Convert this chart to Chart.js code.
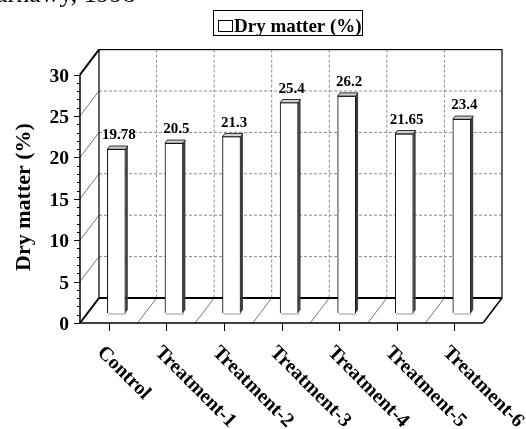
<!DOCTYPE html>
<html>
<head>
<meta charset="utf-8">
<script src="https://cdn.jsdelivr.net/npm/chart.js@4/dist/chart.umd.min.js"></script>
<style>
  html, body { margin: 0; padding: 0; background: #fff; }
  canvas { display: block; }
</style>
</head>
<body>
<canvas id="chart" width="526" height="429"></canvas>
<script>
// Dry matter (%) - 3D style column chart
const categories = ['Control', 'Treatment-1', 'Treatment-2', 'Treatment-3', 'Treatment-4', 'Treatment-5', 'Treatment-6'];
const dryMatter = [19.78, 20.5, 21.3, 25.4, 26.2, 21.65, 23.4];
const valueLabels = ['19.78', '20.5', '21.3', '25.4', '26.2', '21.65', '23.4'];
const yTicks = [0, 5, 10, 15, 20, 25, 30];
const seriesName = 'Dry matter (%)';
const yTitle = 'Dry matter (%)';

const SERIF = '"Liberation Serif", "Times New Roman", serif';
// depth of the 3D box, bars sit 60% of the way from the back wall
const DX = 19, DY = 25, F = 0.6;
const BACK = { x: DX * F, y: -DY * F };
const FRONT = { x: -DX * (1 - F), y: DY * (1 - F) };

function line(ctx, x1, y1, x2, y2) {
  ctx.beginPath(); ctx.moveTo(x1, y1); ctx.lineTo(x2, y2); ctx.stroke();
}

function edges(xs) {
  const step = xs.getPixelForValue(1) - xs.getPixelForValue(0);
  const out = [];
  for (let i = 0; i <= categories.length; i++) out.push(xs.getPixelForValue(0) - step / 2 + i * step);
  return out;
}

const frame3d = {
  id: 'frame3d',
  beforeDatasetsDraw(chart) {
    const ctx = chart.ctx, xs = chart.scales.x, ys = chart.scales.y;
    const e = edges(xs);
    const y0 = ys.getPixelForValue(0), yTop = ys.getPixelForValue(30);
    const bl = e[0] + BACK.x, br = e[e.length - 1] + BACK.x;
    const fl = e[0] + FRONT.x, fr = e[e.length - 1] + FRONT.x;
    ctx.save();
    // back wall gridlines (dashed)
    ctx.strokeStyle = '#8a8a8a'; ctx.lineWidth = 1; ctx.setLineDash([3, 2]);
    yTicks.slice(1, -1).forEach(v => {
      const yy = ys.getPixelForValue(v) + BACK.y;
      line(ctx, bl, yy, br, yy);
    });
    e.slice(1, -1).forEach(xx => line(ctx, xx + BACK.x, yTop + BACK.y, xx + BACK.x, y0 + BACK.y));
    ctx.setLineDash([]);
    // left wall and floor diagonals
    ctx.strokeStyle = '#777';
    yTicks.slice(1, -1).forEach(v => {
      const yy = ys.getPixelForValue(v);
      line(ctx, fl, yy + FRONT.y, bl, yy + BACK.y);
    });
    e.slice(1, -1).forEach(xx => line(ctx, xx + BACK.x, y0 + BACK.y, xx + FRONT.x, y0 + FRONT.y));
    // back wall border
    ctx.strokeStyle = '#000'; ctx.lineWidth = 1.2;
    ctx.strokeRect(bl, yTop + BACK.y, br - bl, y0 - yTop);
    ctx.lineWidth = 2;
    line(ctx, bl, y0 + BACK.y, br, y0 + BACK.y);
    line(ctx, fl, yTop + FRONT.y, bl, yTop + BACK.y);
    line(ctx, fl, y0 + FRONT.y, bl, y0 + BACK.y);
    ctx.lineWidth = 1.5;
    line(ctx, fr, y0 + FRONT.y, br, y0 + BACK.y);
    ctx.restore();
  },
  afterDatasetsDraw(chart) {
    const ctx = chart.ctx, xs = chart.scales.x, ys = chart.scales.y;
    const e = edges(xs);
    const y0 = ys.getPixelForValue(0), yTop = ys.getPixelForValue(30);
    const fl = e[0] + FRONT.x, fr = e[e.length - 1] + FRONT.x;
    const bdx = 2.4, bdy = 3.2;
    ctx.save();
    // bar side and top faces + value labels
    chart.getDatasetMeta(0).data.forEach((bar, i) => {
      const p = bar.getProps(['x', 'y', 'base', 'width'], true);
      const l = p.x - p.width / 2, r = p.x + p.width / 2;
      ctx.fillStyle = '#3c3c3c';
      ctx.beginPath();
      ctx.moveTo(r, p.y); ctx.lineTo(r + bdx, p.y - bdy); ctx.lineTo(r + bdx, p.base - bdy); ctx.lineTo(r, p.base);
      ctx.closePath(); ctx.fill();
      ctx.fillStyle = '#d0d0d0'; ctx.strokeStyle = '#000'; ctx.lineWidth = 0.8;
      ctx.beginPath();
      ctx.moveTo(l, p.y); ctx.lineTo(l + bdx, p.y - bdy); ctx.lineTo(r + bdx, p.y - bdy); ctx.lineTo(r, p.y);
      ctx.closePath(); ctx.fill(); ctx.stroke();
      ctx.strokeStyle = '#999'; ctx.lineWidth = 1;
      line(ctx, l + 1, p.base + 1, r + 1, p.base + 1);
      ctx.fillStyle = '#000'; ctx.font = 'bold 15px ' + SERIF;
      ctx.textAlign = 'center'; ctx.textBaseline = 'alphabetic';
      ctx.fillText(valueLabels[i], p.x + 2.5, p.y - 10);
    });
    // front axes
    ctx.strokeStyle = '#000'; ctx.lineWidth = 1.5;
    line(ctx, fl, yTop + FRONT.y, fl, y0 + FRONT.y);
    line(ctx, fl, y0 + FRONT.y, fr, y0 + FRONT.y);
    ctx.lineWidth = 1;
    for (let v = 0; v <= 30; v++) {
      const yy = Math.round(ys.getPixelForValue(v) + FRONT.y) + 0.5;
      line(ctx, fl - (v % 5 === 0 ? 6 : 3), yy, fl, yy);
    }
    categories.forEach((c, i) => {
      const xx = Math.round(xs.getPixelForValue(i) + FRONT.x) + 0.5;
      line(ctx, xx, y0 + FRONT.y, xx, y0 + FRONT.y + 8);
    });
    // y tick labels
    ctx.fillStyle = '#000'; ctx.font = 'bold 19.5px ' + SERIF;
    ctx.textAlign = 'right'; ctx.textBaseline = 'alphabetic';
    yTicks.forEach(v => ctx.fillText(String(v), fl - 11, ys.getPixelForValue(v) + FRONT.y + 7));
    // category labels, rotated 45deg down-right
    ctx.font = 'bold 20px ' + SERIF; ctx.textAlign = 'left';
    categories.forEach((c, i) => {
      const xx = xs.getPixelForValue(i) + FRONT.x;
      ctx.save();
      ctx.translate(xx - 3, y0 + FRONT.y + 21);
      ctx.rotate(Math.PI / 4);
      ctx.fillText(c, 0, 13);
      ctx.restore();
    });
    // y axis title
    ctx.save();
    ctx.translate(30, 197);
    ctx.rotate(-Math.PI / 2);
    ctx.font = 'bold 22px ' + SERIF; ctx.textAlign = 'center';
    ctx.fillText(yTitle, 0, 0);
    ctx.restore();
    // legend box
    ctx.lineWidth = 1; ctx.strokeStyle = '#000';
    ctx.strokeRect(213.5, 10.5, 149, 25);
    ctx.strokeRect(218.5, 20.5, 14, 11);
    ctx.font = 'bold 19px ' + SERIF; ctx.textAlign = 'left';
    ctx.fillText(seriesName, 234, 32);
    // clipped line of text above the chart
    ctx.font = '26px ' + SERIF;
    ctx.fillText('arnawy, 1998', -4, 2);
    ctx.restore();
  }
};

new Chart(document.getElementById('chart'), {
  type: 'bar',
  data: {
    labels: categories,
    datasets: [{
      label: seriesName,
      data: dryMatter,
      backgroundColor: '#ffffff',
      borderColor: '#000000',
      borderWidth: 1,
      barThickness: 18,
    }],
  },
  options: {
    responsive: false,
    devicePixelRatio: 1,
    animation: false,
    layout: { padding: { left: 87.6, right: 35.4, top: 64.6, bottom: 116 } },
    plugins: { legend: { display: false }, tooltip: { enabled: false } },
    scales: {
      x: { display: false, grid: { display: false } },
      y: { display: false, min: 0, max: 30 },
    },
  },
  plugins: [frame3d],
});
</script>
</body>
</html>
